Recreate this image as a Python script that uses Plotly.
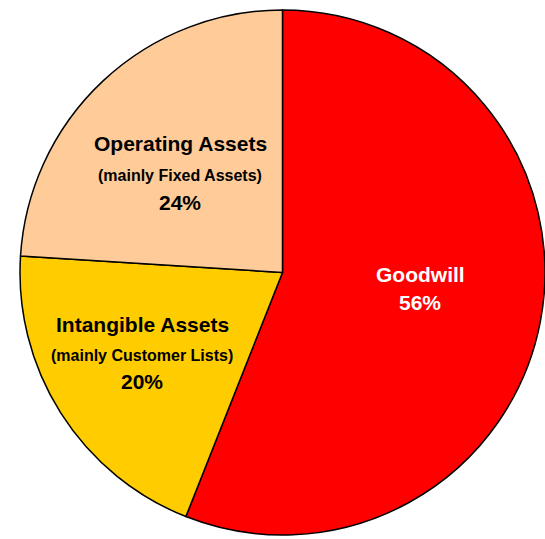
import plotly.graph_objects as go

labels = ["Goodwill", "Intangible Assets", "Operating Assets"]
subtitles = ["", "(mainly Customer Lists)", "(mainly Fixed Assets)"]
values = [56, 20, 24]
colors = ["#FF0000", "#FFCC00", "#FFCC99"]
text_colors = ["#FFFFFF", "#000000", "#000000"]

W, H = 545, 539

fig = go.Figure(go.Pie(
    labels=labels,
    values=values,
    sort=False,
    direction="clockwise",
    rotation=0,
    marker=dict(colors=colors, line=dict(color="#000000", width=1.5)),
    textinfo="none",
    hoverinfo="label+percent",
    showlegend=False,
    domain=dict(x=[20 / W, 1], y=[1 - 535 / H, 1 - 10 / H]),
))

# label anchor positions (pixels, layout only)
label_pos = {
    "Goodwill": (420, [274, None, 302]),
    "Intangible Assets": (142, [324, 355, 381]),
    "Operating Assets": (180, [143, 176, 202]),
}
FONT = "Liberation Sans, Arial, sans-serif"
annotations = []
for lab, sub, val, tc in zip(labels, subtitles, values, text_colors):
    x, ys = label_pos[lab]
    lines = [(lab, 21), (sub, 16), (f"{val}%", 21)]
    for (txt, size), y in zip(lines, ys):
        if not txt or y is None:
            continue
        annotations.append(dict(
            x=x / W, y=1 - y / H, xref="paper", yref="paper",
            text=f"<b>{txt}</b>", showarrow=False,
            xanchor="center", yanchor="middle",
            font=dict(family=FONT, size=size, color=tc),
        ))

fig.update_layout(
    width=W, height=H,
    margin=dict(l=0, r=0, t=0, b=0),
    paper_bgcolor="#FFFFFF",
    plot_bgcolor="#FFFFFF",
    annotations=annotations,
)

fig.write_html("out.html")
